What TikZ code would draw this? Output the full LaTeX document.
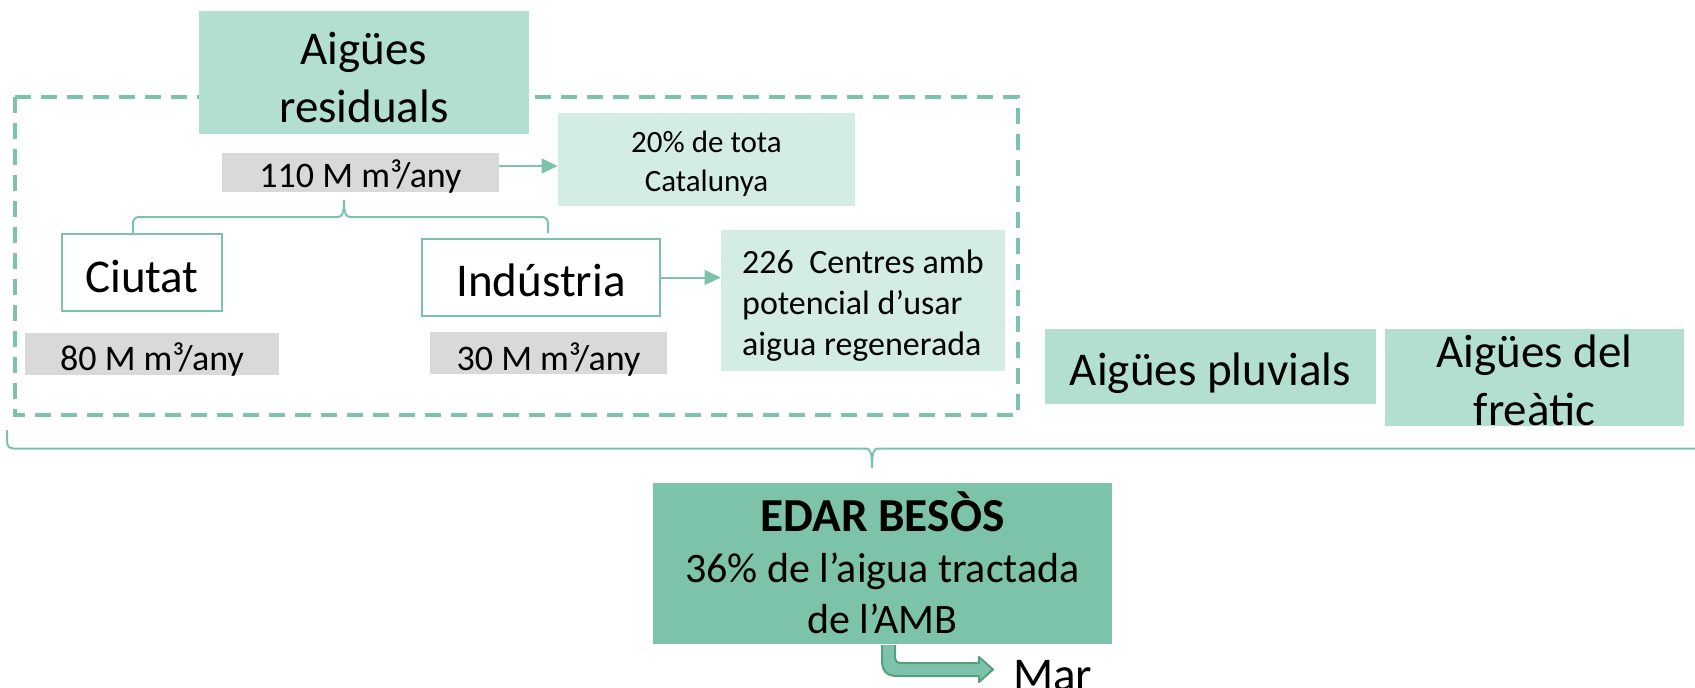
\documentclass[tikz,border=0pt]{standalone}
\usepackage{fontspec}
\setmainfont{Carlito}
\usepackage{tikz}
\usetikzlibrary{calc,arrows.meta}

\begin{document}
\begin{tikzpicture}[x=0.75pt,y=0.75pt,yscale=-1,xscale=1,
  teal line/.style={draw={rgb, 255:red, 125; green, 195; blue, 169 },line width=1.5pt},
  fill mid/.style={fill={rgb, 255:red, 179; green, 223; blue, 209 }},
  fill light/.style={fill={rgb, 255:red, 212; green, 237; blue, 228 }},
  fill grey/.style={fill={rgb, 255:red, 217; green, 217; blue, 217 }},
  txt/.style={inner sep=0pt,align=center},
  big txt/.style={font=\fontsize{35.25}{43.5}\selectfont},
  grey txt/.style={font=\fontsize{27}{33}\selectfont},
  flow arrow/.style={teal line,-{Triangle[length=12pt,width=11pt]}},
]
\useasboundingbox (0,0) rectangle (1695,687);

%Shape: Rectangle [dashed frame round the waste water]
\draw [draw={rgb, 255:red, 125; green, 195; blue, 169 },line width=2.6pt,dash pattern={on 12pt off 7.5pt}] (15,97) rectangle (1018,415);

% Text Node
\node [txt,fill mid,big txt,text height=74.25pt,text depth=0pt,minimum width=247.5pt,minimum height=92.25pt] (resid) at (364,72.5) {Aigües\\residuals};
% Text Node
\node [txt,fill grey,grey txt,text height=21.75pt,text depth=0pt,minimum width=207.75pt,minimum height=29.25pt] (g110) at (360.5,172.5) {110 M m³/any};
% Text Node
\node [txt,fill light,font=\fontsize{23.25}{29.25}\selectfont,text height=48.3pt,text depth=0pt,minimum width=222.75pt,minimum height=69.75pt] (pct) at (706.5,159.5) {20\% de tota\\Catalunya};
% Text Node
\node [txt,teal line,fill=white,big txt,text height=30pt,text depth=0pt,minimum width=120pt,minimum height=57.75pt] (ciutat) at (142,272.5) {Ciutat};
% Text Node
\node [txt,fill grey,grey txt,text height=24pt,text depth=0pt,minimum width=190.5pt,minimum height=31.5pt] (g80) at (152,354) {80 M m³/any};
% Text Node
\node [txt,teal line,fill=white,big txt,text height=28.5pt,text depth=0pt,minimum width=178.5pt,minimum height=57.75pt] (indus) at (541,277.5) {Indústria};
% Text Node
\node [txt,fill grey,grey txt,text height=25.5pt,text depth=0pt,minimum width=177.75pt,minimum height=31.5pt] (g30) at (548.5,353) {30 M m³/any};
% Text Node
\node [fill light,inner sep=0pt,align=left,font=\fontsize{25.5}{30.75}\selectfont,text height=81.75pt,text depth=0pt,minimum width=213pt,minimum height=105.75pt] (centres) at (863,300.5) {226\ \ Centres amb\\potencial d’usar\\aigua regenerada};
% Text Node
\node [txt,fill mid,big txt,text height=27.75pt,text depth=0pt,minimum width=248.25pt,minimum height=56.25pt] (pluv) at (1210.5,366.5) {Aigües pluvials};
% Text Node
\node [txt,fill mid,big txt,text height=71.25pt,text depth=0pt,minimum width=224.25pt,minimum height=72.75pt] (freat) at (1534.5,377.5) {Aigües del\\freàtic};
% Text Node
\node [txt,fill={rgb, 255:red, 125; green, 195; blue, 169 },font=\fontsize{31.5}{37.9}\selectfont,text height=104.25pt,text depth=0pt,minimum width=344.25pt,minimum height=120.75pt] (edar) at (882.5,563.5) {{\fontsize{35.5}{37.9}\selectfont\bfseries EDAR BESÒS}\\36\% de l’aigua tractada\\de l’AMB};
% Text Node
\node [anchor=base west,inner sep=0pt,big txt] (mar) at (1013,690) {Mar};

%Straight Lines [arrows]
\draw [flow arrow] ($(g110.east)+(0,-6.5)$) -- ($(pct.west)+(0,6.5)$);
\draw [flow arrow] (indus.east) -- (indus.east -| centres.west);

%Shape: Brace [110 over the two sources]
\coordinate (bl) at (133,233);
\coordinate (br) at (548,233);
\coordinate (btip) at (344,200);
\draw [teal line] (bl) -- (133,224) .. controls (133,219) and (135,217) .. (140,217) -- (338,217) .. controls (342,217) and (344,213) .. (btip) .. controls (344,213) and (346,217) .. (350,217) -- (541,217) .. controls (546,217) and (548,219) .. (548,224) -- (br);

%Shape: Brace [all the water into the plant]
\coordinate (bigl) at (7,430);
\coordinate (bigtip) at (872,468);
\draw [teal line] (bigl) -- (7,441) .. controls (7,446) and (9,448.5) .. (14,448.5) -- (866,448.5) .. controls (870,448.5) and (872,452) .. (bigtip) .. controls (872,452) and (874,448.5) .. (878,448.5) -- (1700,448.5);

%Shape: Bent Arrow [to the sea]
\draw [draw={rgb, 255:red, 84; green, 160; blue, 126 },fill={rgb, 255:red, 125; green, 195; blue, 169 },line width=1.5pt,line join=round] (882,645) -- (882,660) .. controls (882,672) and (887,676) .. (898,676) -- (979,676) -- (979,682) -- (993,669.5) -- (979,657) -- (979,663) -- (900,663) .. controls (897,663) and (895,661) .. (895,658) -- (895,645);

\end{tikzpicture}
\end{document}
